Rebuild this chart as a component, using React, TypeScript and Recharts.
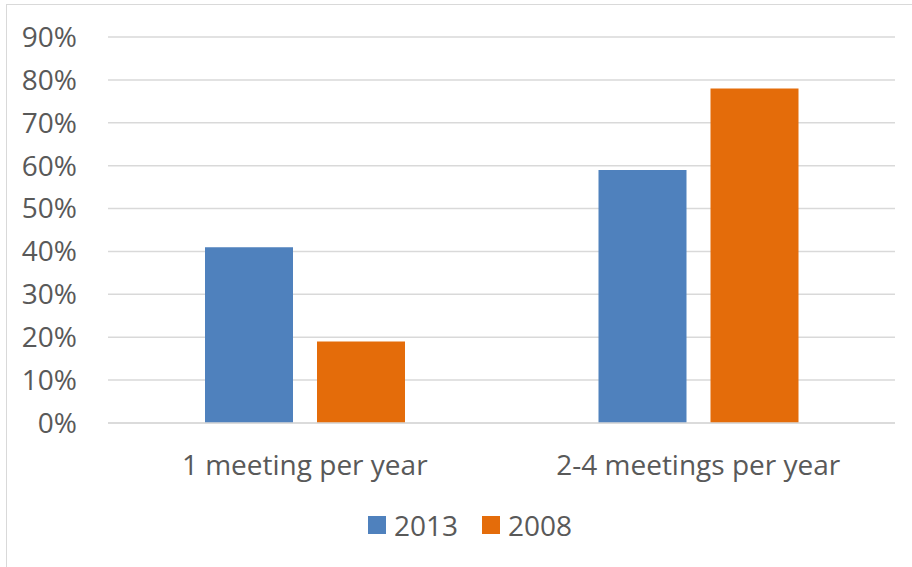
import React from 'react';
import { BarChart, Bar, XAxis, YAxis, CartesianGrid, Legend } from 'recharts';

const categories = ['1 meeting per year', '2-4 meetings per year'];
const values2013 = [41, 59];
const values2008 = [19, 78];
const yTicks = [0, 10, 20, 30, 40, 50, 60, 70, 80, 90];
const seriesNames = ['2013', '2008'];
const seriesColors = ['#4F81BD', '#E46C0A'];

const data = categories.map((name, i) => ({ name, y2013: values2013[i], y2008: values2008[i] }));

const font = '"Open Sans", "Liberation Sans", sans-serif';
const textColor = '#595959';

function LegendBox() {
  return (
    <div style={{ display: 'flex', justifyContent: 'center', alignItems: 'center', gap: 24, paddingLeft: 28 }}>
      {seriesNames.map((n, i) => (
        <div key={n} style={{ display: 'flex', alignItems: 'center', gap: 8 }}>
          <span style={{ width: 18, height: 18, background: seriesColors[i], display: 'inline-block' }} />
          <span style={{ color: textColor, fontSize: 28, fontFamily: font }}>{n}</span>
        </div>
      ))}
    </div>
  );
}

export default function App() {
  return (
    <div
      style={{
        position: 'absolute',
        left: 0,
        top: 0,
        width: 912,
        height: 567,
        background: '#fff',
        fontFamily: font,
      }}
    >
      <div
        style={{
          position: 'absolute',
          left: 6,
          top: 4,
          width: 912,
          height: 570,
          border: '1px solid #d9d9d9',
          boxSizing: 'border-box',
        }}
      />
      <BarChart
        width={912}
        height={567}
        data={data}
        margin={{ top: 37, right: 17, left: 0, bottom: 84 }}
        barGap={24}
        barSize={88}
        style={{ position: 'absolute', left: 0, top: 0 }}
      >
        <CartesianGrid vertical={false} stroke="#d9d9d9" strokeWidth={1.5} />
        <XAxis
          dataKey="name"
          axisLine={{ stroke: '#d9d9d9', strokeWidth: 1.5 }}
          tickLine={false}
          tickSize={0}
          tickMargin={32}
          height={60}
          tick={{ fill: textColor, fontSize: 28, fontFamily: font }}
        />
        <YAxis
          width={108}
          domain={[0, 90]}
          ticks={yTicks}
          interval={0}
          axisLine={false}
          tickLine={false}
          tickSize={0}
          tickMargin={31}
          tickFormatter={(v: number) => `${v}%`}
          tick={{ fill: textColor, fontSize: 28, fontFamily: font }}
        />
        <Legend
          verticalAlign="middle"
          align="center"
          wrapperStyle={{ top: 506, left: 0, width: 912 }}
          content={() => <LegendBox />}
        />
        <Bar dataKey="y2013" name={seriesNames[0]} fill={seriesColors[0]} isAnimationActive={false} />
        <Bar dataKey="y2008" name={seriesNames[1]} fill={seriesColors[1]} isAnimationActive={false} />
      </BarChart>
    </div>
  );
}
